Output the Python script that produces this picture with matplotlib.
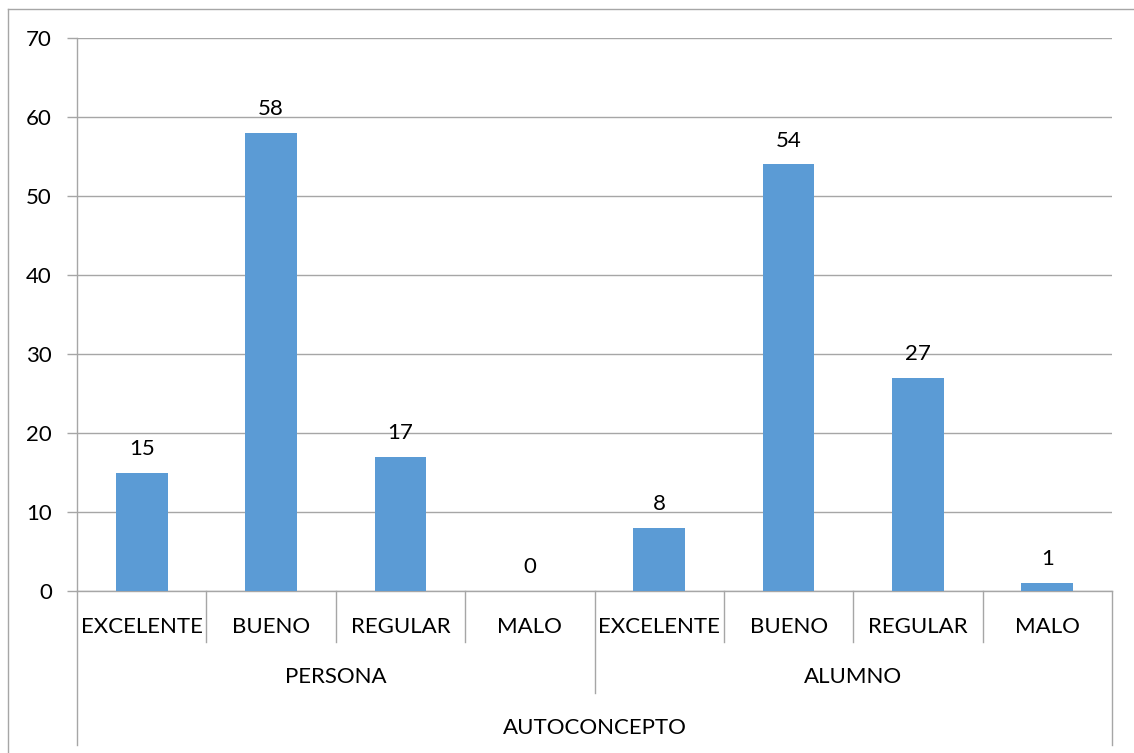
import matplotlib.pyplot as plt
import matplotlib.transforms as mtransforms
import numpy as np

plt.rcParams['font.family'] = ['Lato', 'DejaVu Sans']

# datos
categorias = ['EXCELENTE', 'BUENO', 'REGULAR', 'MALO',
              'EXCELENTE', 'BUENO', 'REGULAR', 'MALO']
grupos = ['PERSONA', 'ALUMNO']
titulo_eje = 'AUTOCONCEPTO'
valores = [15, 58, 17, 0, 8, 54, 27, 1]

azul = '#5B9BD5'
gris = '#A6A6A6'
fs = 16

fig = plt.figure(figsize=(11.34, 7.53), dpi=100)
ax = fig.add_axes([77 / 1134, 1 - 591 / 753, (1112 - 77) / 1134, (591 - 38) / 753])

x = np.arange(len(valores))
ax.bar(x, valores, width=0.4, color=azul, zorder=3)

# etiquetas de datos
for xi, v in zip(x, valores):
    ax.annotate(str(v), (xi, v), xytext=(0, 10), textcoords='offset points',
                ha='center', va='bottom', fontsize=fs, color='black')

ax.set_xlim(-0.5, len(valores) - 0.5)
ax.set_ylim(0, 70)
ax.set_yticks(range(0, 71, 10))
ax.tick_params(axis='y', length=7, width=1, color=gris, labelsize=fs, pad=11)
ax.tick_params(axis='x', length=0, labelbottom=False)
ax.grid(axis='y', color=gris, linewidth=1, zorder=0)

for s in ['top', 'right']:
    ax.spines[s].set_visible(False)
ax.spines['left'].set_color(gris)
ax.spines['bottom'].set_color(gris)
ax.spines['left'].set_linewidth(1)
ax.spines['bottom'].set_linewidth(1)

# eje de categorias en varios niveles
trans = mtransforms.blended_transform_factory(ax.transData, ax.transAxes)
h = 553.0
y1 = -(642 - 591) / h
y2 = -(693 - 591) / h
y3 = -(745 - 591) / h

n = len(categorias)
for b in range(n + 1):
    xb = b - 0.5
    if b in (0, n):
        ybot = y3
    elif b == n // 2:
        ybot = y2
    else:
        ybot = y1
    ax.plot([xb, xb], [0, ybot], color=gris, linewidth=1, transform=trans, clip_on=False)

for xi, c in zip(x, categorias):
    ax.text(xi, -(627 - 591) / h, c, transform=trans, ha='center', va='center', fontsize=fs)

for gi, g in enumerate(grupos):
    ax.text(gi * 4 + 1.5, -(677 - 591) / h, g, transform=trans, ha='center', va='center', fontsize=fs)

ax.text((n - 1) / 2, -(728 - 591) / h, titulo_eje, transform=trans, ha='center', va='center', fontsize=fs)

# borde del grafico (solo se ve arriba e izquierda)
fig.add_artist(plt.Line2D([8 / 1134, 8 / 1134], [0, 1 - 9 / 753], color=gris, linewidth=1,
                          transform=fig.transFigure))
fig.add_artist(plt.Line2D([8 / 1134, 1], [1 - 9 / 753, 1 - 9 / 753], color=gris, linewidth=1,
                          transform=fig.transFigure))

fig.savefig('out.png', dpi=100)
